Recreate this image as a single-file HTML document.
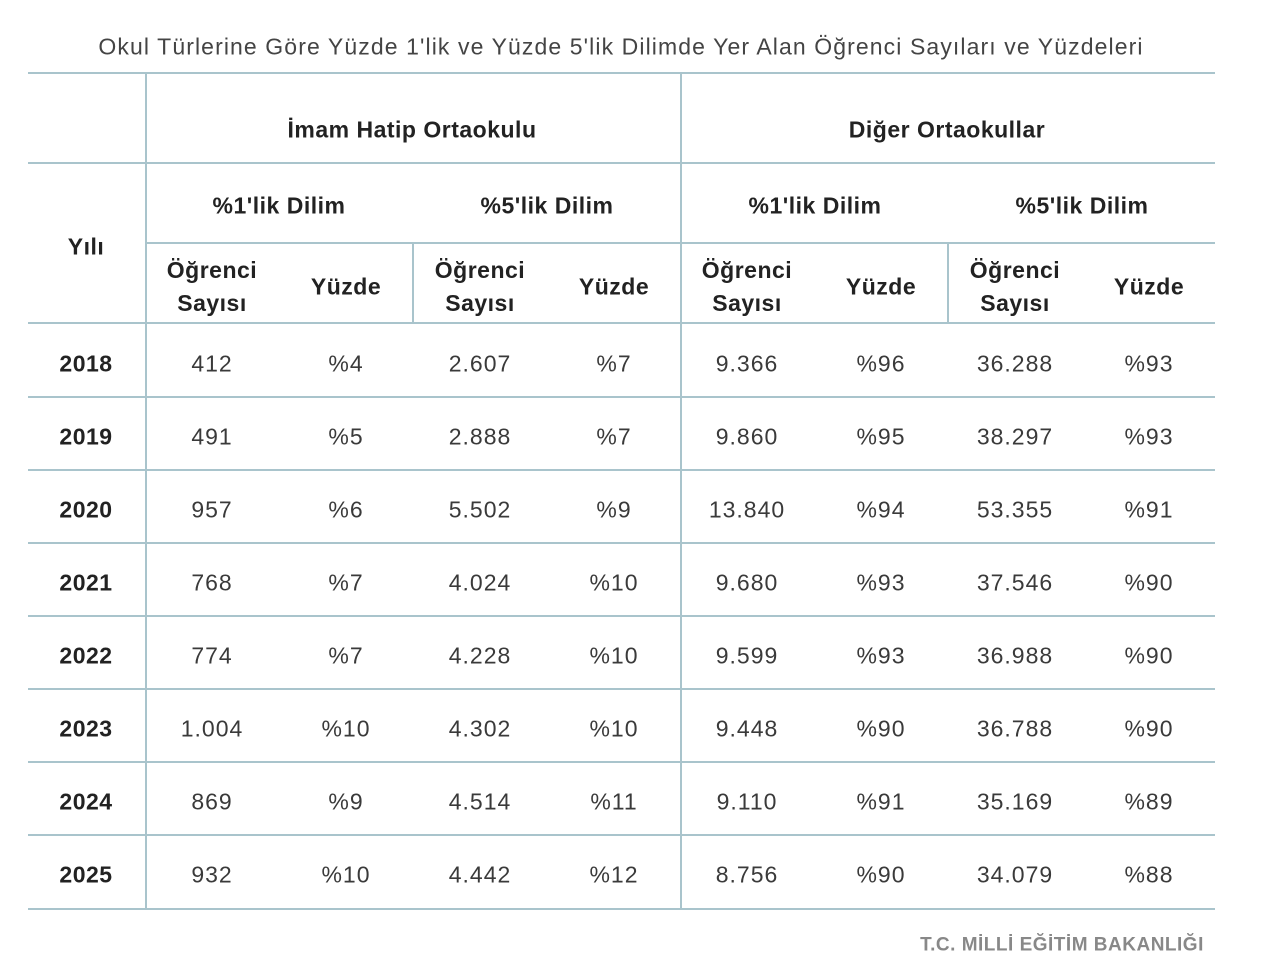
<!DOCTYPE html>
<html><head><meta charset="utf-8"><style>
body{margin:0;width:1280px;height:959px;background:#fff;position:relative;overflow:hidden;font-family:"Liberation Sans",sans-serif;}
.h{position:absolute;height:2px;background:#a9c4cc;}
.v{position:absolute;width:2px;background:#a9c4cc;}
.t{position:absolute;transform:translate(-50%,-50%);white-space:nowrap;font-size:23px;color:#3a3a3a;text-align:center;line-height:33px;letter-spacing:1px;}
.b{font-weight:bold;color:#222;letter-spacing:0.5px;}
</style></head><body>
<div class="t" style="left:621px;top:47px;font-size:23px;color:#444;letter-spacing:1.1px">Okul Türlerine Göre Yüzde 1'lik ve Yüzde 5'lik Dilimde Yer Alan Öğrenci Sayıları ve Yüzdeleri</div>
<div class="h" style="left:28px;width:1187px;top:72px"></div>
<div class="h" style="left:28px;width:1187px;top:162px"></div>
<div class="h" style="left:146px;width:1069px;top:242px"></div>
<div class="h" style="left:28px;width:1187px;top:322px"></div>
<div class="h" style="left:28px;width:1187px;top:396px"></div>
<div class="h" style="left:28px;width:1187px;top:469px"></div>
<div class="h" style="left:28px;width:1187px;top:542px"></div>
<div class="h" style="left:28px;width:1187px;top:615px"></div>
<div class="h" style="left:28px;width:1187px;top:688px"></div>
<div class="h" style="left:28px;width:1187px;top:761px"></div>
<div class="h" style="left:28px;width:1187px;top:834px"></div>
<div class="h" style="left:28px;width:1187px;top:908px"></div>
<div class="v" style="left:145px;top:73px;height:836px"></div>
<div class="v" style="left:680px;top:73px;height:836px"></div>
<div class="v" style="left:412px;top:243px;height:80px"></div>
<div class="v" style="left:947px;top:243px;height:80px"></div>
<div class="t b" style="left:412px;top:130px">İmam Hatip Ortaokulu</div>
<div class="t b" style="left:947px;top:130px">Diğer Ortaokullar</div>
<div class="t b" style="left:86px;top:247px">Yılı</div>
<div class="t b" style="left:279px;top:206px">%1'lik Dilim</div>
<div class="t b" style="left:547px;top:206px">%5'lik Dilim</div>
<div class="t b" style="left:815px;top:206px">%1'lik Dilim</div>
<div class="t b" style="left:1082px;top:206px">%5'lik Dilim</div>
<div class="t b" style="left:212px;top:287px">Öğrenci<br>Sayısı</div>
<div class="t b" style="left:346px;top:287px">Yüzde</div>
<div class="t b" style="left:480px;top:287px">Öğrenci<br>Sayısı</div>
<div class="t b" style="left:614px;top:287px">Yüzde</div>
<div class="t b" style="left:747px;top:287px">Öğrenci<br>Sayısı</div>
<div class="t b" style="left:881px;top:287px">Yüzde</div>
<div class="t b" style="left:1015px;top:287px">Öğrenci<br>Sayısı</div>
<div class="t b" style="left:1149px;top:287px">Yüzde</div>
<div id="rows"></div>
<div class="t b" style="left:1062px;top:945px;font-size:19px;color:#888">T.C. MİLLİ EĞİTİM BAKANLIĞI</div>
<script>
var d=[["2018","412","%4","2.607","%7","9.366","%96","36.288","%93"],
["2019","491","%5","2.888","%7","9.860","%95","38.297","%93"],
["2020","957","%6","5.502","%9","13.840","%94","53.355","%91"],
["2021","768","%7","4.024","%10","9.680","%93","37.546","%90"],
["2022","774","%7","4.228","%10","9.599","%93","36.988","%90"],
["2023","1.004","%10","4.302","%10","9.448","%90","36.788","%90"],
["2024","869","%9","4.514","%11","9.110","%91","35.169","%89"],
["2025","932","%10","4.442","%12","8.756","%90","34.079","%88"]];
var xs=[86,212,346,480,614,747,881,1015,1149],h="";
d.forEach(function(r,i){var y=364+i*73;r.forEach(function(c,j){h+='<div class="t'+(j==0?' b':'')+'" style="left:'+xs[j]+'px;top:'+y+'px">'+c+'</div>';});});
document.getElementById("rows").innerHTML=h;
</script>
</body></html>
